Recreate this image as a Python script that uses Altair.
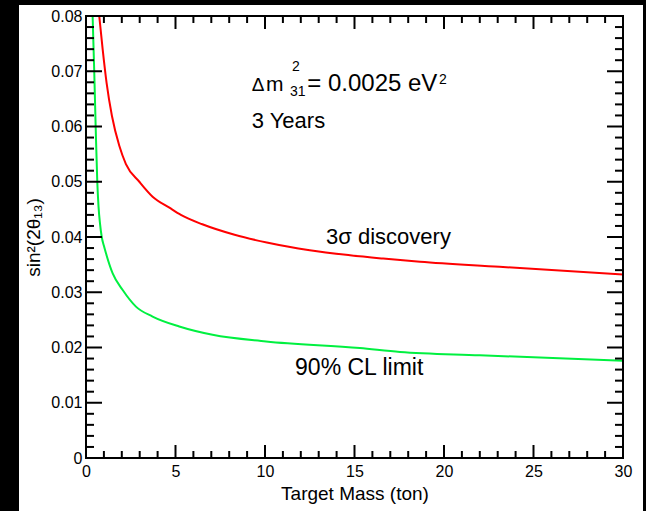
import altair as alt
import pandas as pd

# ---- data ----
mass_red = [0.70, 0.74, 0.93, 1.15, 1.45, 1.86, 2.23, 2.98, 3.72, 4.66, 5.3, 6.5,
            8.3, 10.1, 12.5, 14.75, 16.6, 18.66, 23.1, 30.0]
sens_red = [0.0813, 0.0800, 0.0740, 0.0679, 0.0619, 0.0565, 0.0532, 0.0500, 0.0473,
            0.0453, 0.0440, 0.0423, 0.0404, 0.0390, 0.0376, 0.0367, 0.0361, 0.0355,
            0.0346, 0.0332]

mass_green = [0.35, 0.37, 0.46, 0.54, 0.63, 0.70, 0.78, 0.88, 1.0, 1.12, 1.49, 2.05,
              2.79, 3.72, 5.21, 7.07, 10.06, 15.3, 17.54, 22.0, 30.0]
sens_green = [0.0825, 0.0800, 0.0700, 0.0600, 0.0500, 0.0455, 0.0425, 0.0400, 0.0384,
              0.0370, 0.0334, 0.0304, 0.0274, 0.0256, 0.0238, 0.0223, 0.0211, 0.0199,
              0.0192, 0.0186, 0.0176]

x_major = [0, 5, 10, 15, 20, 25, 30]
x_minor = [i for i in range(31) if i % 5 != 0]
y_major = [0.0, 0.01, 0.02, 0.03, 0.04, 0.05, 0.06, 0.07, 0.08]
y_minor = [round(i * 0.002, 3) for i in range(41) if i % 5 != 0]

# annotation texts (positions in data units)
big_text = ["Δ", "m", "= 0.0025 eV", "3 Years", "3σ discovery", "90% CL limit"]
big_x = [9.26, 10.06, 12.36, 9.26, 13.41, 11.68]
big_y = [0.0664, 0.0664, 0.0664, 0.0597, 0.0387, 0.0150]
big_size = [19, 21, 24, 22, 22, 23]
small_text = ["2", "31", "2"]
small_x = [11.51, 11.40, 19.72]
small_y = [0.0700, 0.0655, 0.0677]

FONT = "Liberation Sans"
W, H = 537, 442

xs = alt.Scale(domain=[0, 30], nice=False, zero=False)
ys = alt.Scale(domain=[0, 0.08], nice=False, zero=False)

one = pd.DataFrame({"a": [0]})
strip_left = alt.Chart(one).mark_rect(color="black").encode(
    x=alt.value(-90), x2=alt.value(-67), y=alt.value(-20), y2=alt.value(500))
strip_top = alt.Chart(one).mark_rect(color="black").encode(
    x=alt.value(-90), x2=alt.value(570), y=alt.value(-20), y2=alt.value(-11))
strip_right = alt.Chart(one).mark_rect(color="black").encode(
    x=alt.value(557), x2=alt.value(570), y=alt.value(-20), y2=alt.value(500))

x_axis = alt.Axis(
    values=x_major, ticks=False, domain=False, grid=False, labelFlush=False,
    labelOverlap=False, labelFont=FONT, labelFontSize=16, labelColor="black",
    labelPadding=5, title="Target Mass (ton)", titleFont=FONT, titleFontSize=19,
    titleFontWeight="normal", titleColor="black", titleY=35, titleBaseline="middle",
    zindex=1,
)
y_axis = alt.Axis(
    values=y_major, ticks=False, domain=False, grid=False, labelFlush=False,
    labelOverlap=False, labelFont=FONT, labelFontSize=16, labelColor="black",
    labelPadding=4, labelExpr="datum.value == 0 ? '0' : format(datum.value, '.2f')",
    title="sin²(2θ₁₃)", titleFont=FONT, titleFontSize=19, titleFontWeight="normal",
    titleColor="black", titleAngle=270, titleX=-53, titleY=H / 2,
    titleAlign="center", titleBaseline="middle", zindex=1,
)

red_df = pd.DataFrame({"m": mass_red, "s": sens_red})
green_df = pd.DataFrame({"m": mass_green, "s": sens_green})

green = alt.Chart(green_df).mark_line(color="#00f040", strokeWidth=2, clip=True,
                                      interpolate="monotone").encode(
    x=alt.X("m:Q", scale=xs, axis=x_axis),
    y=alt.Y("s:Q", scale=ys, axis=y_axis),
)
red = alt.Chart(red_df).mark_line(color="#ff0000", strokeWidth=2, clip=True,
                                  interpolate="monotone").encode(
    x=alt.X("m:Q", scale=xs),
    y=alt.Y("s:Q", scale=ys),
)


def xticks(vals, length):
    d = pd.DataFrame({"v": vals})
    bottom = alt.Chart(d).mark_rule(color="black", strokeWidth=2).encode(
        x=alt.X("v:Q", scale=xs), y=alt.value(H), y2=alt.value(H - length))
    top = alt.Chart(d).mark_rule(color="black", strokeWidth=2).encode(
        x=alt.X("v:Q", scale=xs), y=alt.value(0), y2=alt.value(length))
    return [bottom, top]


def yticks(vals, length):
    d = pd.DataFrame({"v": vals})
    left = alt.Chart(d).mark_rule(color="black", strokeWidth=2).encode(
        y=alt.Y("v:Q", scale=ys), x=alt.value(0), x2=alt.value(length))
    right = alt.Chart(d).mark_rule(color="black", strokeWidth=2).encode(
        y=alt.Y("v:Q", scale=ys), x=alt.value(W), x2=alt.value(W - length))
    return [left, right]


frame_df = pd.DataFrame({
    "x": [0, 0, 0, 30], "x2": [30, 30, 0, 30],
    "y": [0, 0.08, 0, 0], "y2": [0, 0.08, 0.08, 0.08],
})
frame = alt.Chart(frame_df).mark_rule(color="black", strokeWidth=2, strokeCap="square").encode(
    x=alt.X("x:Q", scale=xs), x2="x2:Q",
    y=alt.Y("y:Q", scale=ys), y2="y2:Q",
)

big_df = pd.DataFrame({"t": big_text, "x": big_x, "y": big_y, "sz": big_size})
big = alt.Chart(big_df).mark_text(align="left", baseline="alphabetic", font=FONT,
                                  color="black").encode(
    x=alt.X("x:Q", scale=xs), y=alt.Y("y:Q", scale=ys),
    text="t:N", size=alt.Size("sz:Q", scale=None, legend=None),
)
small_df = pd.DataFrame({"t": small_text, "x": small_x, "y": small_y})
small = alt.Chart(small_df).mark_text(align="left", baseline="alphabetic", font=FONT,
                                      fontSize=14, color="black").encode(
    x=alt.X("x:Q", scale=xs), y=alt.Y("y:Q", scale=ys),
    text="t:N",
)

layers = [green, red] + xticks(x_major, 13) + xticks(x_minor, 7) \
    + yticks(y_major, 16) + yticks(y_minor, 8) + [frame, big, small,
                                                  strip_left, strip_top, strip_right]

chart = alt.layer(*layers).properties(
    width=W, height=H,
    autosize=alt.AutoSizeParams(type="none"),
    padding={"left": 86, "top": 16, "right": 23, "bottom": 53},
    background="white",
).configure_view(stroke=None)

chart.save("out.html", embed_options={"renderer": "svg", "actions": False})
